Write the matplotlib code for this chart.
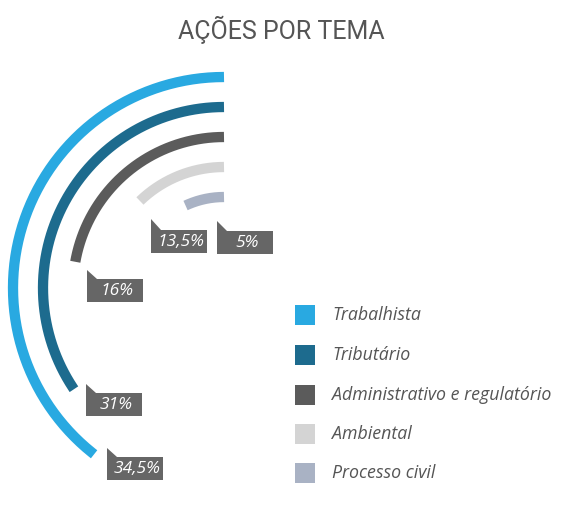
import numpy as np
import matplotlib.pyplot as plt
from matplotlib.patches import Polygon, Rectangle

# data
temas = ['Trabalhista', 'Tributário', 'Administrativo e regulatório', 'Ambiental', 'Processo civil']
rotulos = ['34,5%', '31%', '16%', '13,5%', '5%']
arco_graus = [142, 124, 80, 44, 25]   # sweep of each arc as drawn in the picture
cores = ['#29a9e1', '#1d6b8e', '#5b5b5b', '#d4d4d4', '#a9b2c4']

W, H = 562, 528
fig = plt.figure(figsize=(W / 100, H / 100), dpi=100)
fig.patch.set_facecolor('white')

def fx(x):
    return x / W

def fy(y):
    return 1 - y / H

# polar axes, centre at (224, 288) px, 1 data unit = 1 px
cx, cy, R = 224, 288, 240
ax = fig.add_axes([fx(cx - R), fy(cy + R), 2 * R / W, 2 * R / H], projection='polar')
ax.set_theta_zero_location('N')
ax.set_theta_direction(1)
ax.set_rlim(0, R)
ax.axis('off')

raios = [211, 181, 151, 121, 91]
for g, r, c in zip(arco_graus, raios, cores):
    th = np.linspace(0, np.radians(g), 200)
    ax.plot(th, np.full_like(th, r), color=c, lw=7.4, solid_capstyle='butt')

# label boxes (tail tip y, box left x, box top y)
caixas = [(448, 107, 457), (384, 86, 393), (270, 87, 279), (219, 151, 230), (221, 217, 231)]
bw, bh = 56, 23
for (tip, x, top), txt in zip(caixas, rotulos):
    pts = [(x, tip), (x + 10, top), (x + bw, top), (x + bw, top + bh), (x, top + bh)]
    fig.add_artist(Polygon([(fx(a), fy(b)) for a, b in pts], closed=True,
                           transform=fig.transFigure, facecolor='#666666', edgecolor='none'))
    fig.text(fx(x + bw / 2 + 2), fy(top + bh / 2 + 0.5), txt, color='white', fontsize=12.5,
             fontstyle='italic', family='Open Sans', ha='center', va='center')

# legend
leg_y = [315, 355, 395, 434, 473]
for y, c, t in zip(leg_y, cores, temas):
    fig.add_artist(Rectangle((fx(295), fy(y + 10)), 20 / W, 20 / H, transform=fig.transFigure,
                             facecolor=c, edgecolor='none'))
    fig.text(fx(332), fy(y), t, color='#555555', fontsize=12.8, fontstyle='italic',
             family='Open Sans', ha='left', va='center')

fig.text(fx(281), fy(30), 'AÇÕES POR TEMA', color='#555555', fontsize=18,
         family='Roboto', ha='center', va='center')

fig.savefig('out.png', dpi=100, facecolor='white')
